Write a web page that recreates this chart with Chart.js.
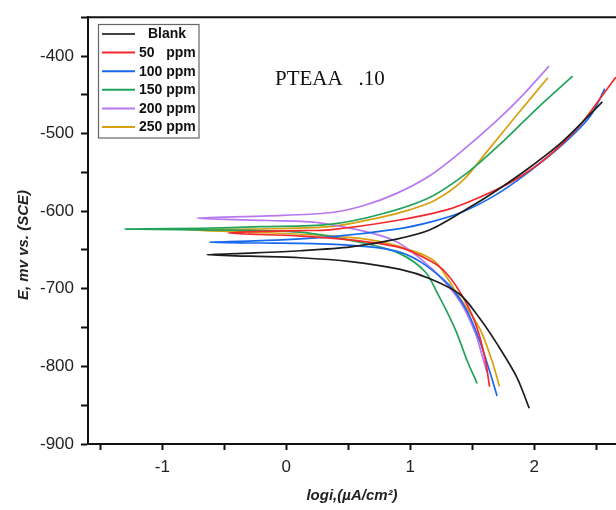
<!DOCTYPE html>
<html>
<head>
<meta charset="utf-8">
<script src="https://cdn.jsdelivr.net/npm/chart.js@4.4.1/dist/chart.umd.min.js"></script>
<style>
    html, body { margin: 0; padding: 0; background: #fff; overflow: hidden; }
    #wrap { width: 616px; height: 510px; }
</style>
</head>
<body>
<div id="wrap"><canvas id="tafel" width="616" height="510"></canvas></div>
<script>
// ============================================
// DATA (log i vs E, cathodic end -> Ecorr -> anodic end)
// ============================================

const seriesNames = ['Blank', '50   ppm', '100 ppm', '150 ppm', '200 ppm', '250 ppm'];
const seriesColors = ['#1e1e1e', '#f5282d', '#1769f0', '#21a45a', '#b878f0', '#d9a00f'];

const blankLogI = [1.96, 1.86, 1.70, 1.56, 1.40, 1.16, 0.92, 0.52, 0.11, -0.29, -0.64, -0.29, 0.11, 0.52, 0.89, 1.16, 1.48, 1.70, 1.96, 2.23, 2.55];
const blankE    = [-854, -814, -771, -738, -707, -687, -675, -665, -660, -658, -656, -654, -651, -646, -636, -624, -595, -573, -544, -510, -459];

const ppm50LogI = [1.64, 1.60, 1.52, 1.40, 1.28, 1.16, 0.92, 0.52, 0.11, -0.21, -0.47, -0.21, 0.11, 0.35, 0.89, 1.30, 1.56, 1.83, 2.10, 2.37, 2.55, 2.66];
const ppm50E    = [-826, -787, -742, -704, -678, -664, -647, -637, -632, -630, -628, -626, -625, -624, -612, -598, -582, -561, -531, -489, -451, -427];

const ppm100LogI = [1.70, 1.64, 1.56, 1.46, 1.36, 1.26, 1.08, 0.92, 0.68, 0.27, -0.21, -0.62, -0.21, 0.35, 0.89, 1.16, 1.42, 1.70, 1.96, 2.23, 2.45, 2.57];
const ppm100E    = [-838, -806, -767, -729, -704, -687, -665, -653, -646, -642, -641, -640, -638, -633, -623, -614, -601, -578, -549, -514, -478, -442];

const ppm150LogI = [1.54, 1.46, 1.36, 1.22, 1.12, 0.92, 0.65, 0.11, -0.69, -1.30, -0.69, -0.21, 0.35, 0.76, 1.16, 1.48, 1.75, 2.02, 2.31];
const ppm150E    = [-822, -793, -751, -706, -678, -655, -642, -627, -624, -623, -622, -620, -617, -604, -582, -548, -510, -468, -426];

const ppm200LogI = [1.62, 1.58, 1.52, 1.40, 1.18, 0.86, 0.27, -0.15, -0.72, -0.15, 0.35, 0.62, 0.89, 1.16, 1.42, 1.70, 1.91, 2.12];
const ppm200E    = [-808, -786, -755, -716, -675, -637, -615, -612, -609, -606, -602, -593, -577, -554, -522, -483, -450, -413];

const ppm250LogI = [1.72, 1.66, 1.56, 1.38, 1.20, 1.00, 0.68, 0.27, -0.29, -0.81, -0.29, 0.35, 0.76, 1.00, 1.20, 1.42, 1.64, 1.86, 2.11];
const ppm250E    = [-826, -793, -751, -707, -665, -650, -637, -631, -627, -624, -623, -620, -608, -598, -586, -561, -519, -476, -428];

const xTicks = [-1.5, -1, -0.5, 0, 0.5, 1, 1.5, 2, 2.5];
const yTicks = [-900, -850, -800, -750, -700, -650, -600, -550, -500, -450, -400, -350];

const allLogI = [blankLogI, ppm50LogI, ppm100LogI, ppm150LogI, ppm200LogI, ppm250LogI];
const allE = [blankE, ppm50E, ppm100E, ppm150E, ppm200E, ppm250E];

// ============================================
// PLUGINS
// ============================================

const frameAndText = {
    id: 'frameAndText',
    afterDraw(chart) {
        const { ctx, chartArea } = chart;
        ctx.save();

        // top frame line
        ctx.strokeStyle = '#111';
        ctx.lineWidth = 2;
        ctx.beginPath();
        ctx.moveTo(chartArea.left - 1, chartArea.top);
        ctx.lineTo(chartArea.right, chartArea.top);
        ctx.stroke();

        // legend box
        ctx.strokeStyle = '#666';
        ctx.lineWidth = 1.2;
        ctx.strokeRect(98.5, 24.5, 100.5, 113.5);
        ctx.font = 'bold 14px "Liberation Sans", Arial, sans-serif';
        ctx.textBaseline = 'middle';
        chart.data.datasets.forEach((ds, i) => {
            const y = 34 + i * 18.6;
            ctx.strokeStyle = i === 0 ? '#444' : ds.borderColor;
            ctx.lineWidth = 2;
            ctx.beginPath();
            ctx.moveTo(102, y);
            ctx.lineTo(135, y);
            ctx.stroke();
            ctx.fillStyle = '#111';
            ctx.fillText(ds.label, i === 0 ? 148 : 139, y + 0.5);
        });

        // annotation
        ctx.font = '21px "Liberation Serif", "Times New Roman", serif';
        ctx.textBaseline = 'alphabetic';
        ctx.fillStyle = '#111';
        ctx.fillText('PTEAA   .10', 275, 85);

        // y title
        ctx.translate(24, 245);
        ctx.rotate(-Math.PI / 2);
        ctx.font = 'bold italic 15px "Liberation Sans", Arial, sans-serif';
        ctx.textAlign = 'center';
        ctx.textBaseline = 'middle';
        ctx.fillStyle = '#222';
        ctx.fillText('E, mv vs. (SCE)', 0, 0);

        ctx.restore();
    }
};

// ============================================
// CHART
// ============================================

const datasets = seriesNames.map((name, i) => ({
    label: name,
    data: allLogI[i].map((x, k) => ({ x: x, y: allE[i][k] })),
    borderColor: seriesColors[i],
    backgroundColor: seriesColors[i],
    borderWidth: 1.7,
    pointRadius: 0,
    showLine: true,
    tension: 0.3,
    fill: false
}));

new Chart(document.getElementById('tafel'), {
    type: 'scatter',
    data: { datasets: datasets },
    options: {
        responsive: false,
        animation: false,
        layout: { padding: { top: 14, right: 0, left: 0, bottom: 0 } },
        plugins: {
            legend: { display: false },
            tooltip: { enabled: false }
        },
        scales: {
            x: {
                type: 'linear',
                min: -1.6,
                max: 2.66,
                afterBuildTicks: axis => { axis.ticks = xTicks.map(v => ({ value: v })); },
                afterFit: scale => { scale.height = 66; },
                ticks: {
                    autoSkip: false,
                    maxRotation: 0,
                    padding: 7,
                    color: '#222',
                    font: { family: '"Liberation Sans", Arial, sans-serif', size: 17 },
                    callback: v => Number.isInteger(v) ? String(v) : ''
                },
                grid: {
                    drawOnChartArea: false,
                    drawTicks: true,
                    tickLength: 6,
                    tickWidth: 2,
                    tickColor: '#111'
                },
                border: { color: '#111', width: 2 },
                title: {
                    display: true,
                    text: 'logi,(µA/cm²)',
                    color: '#222',
                    font: { family: '"Liberation Sans", Arial, sans-serif', size: 15, weight: 'bold', style: 'italic' },
                    padding: { top: 0, bottom: 5 }
                }
            },
            y: {
                type: 'linear',
                min: -900,
                max: -350,
                afterBuildTicks: axis => { axis.ticks = yTicks.map(v => ({ value: v })); },
                afterFit: scale => { scale.width = 88; },
                ticks: {
                    autoSkip: false,
                    padding: 7,
                    color: '#222',
                    font: { family: '"Liberation Sans", Arial, sans-serif', size: 17 },
                    callback: v => (v % 100 === 0 && v !== -350) ? String(v) : ''
                },
                grid: {
                    drawOnChartArea: false,
                    drawTicks: true,
                    tickLength: 7,
                    tickWidth: 2,
                    tickColor: '#111'
                },
                border: { color: '#111', width: 2 }
            }
        }
    },
    plugins: [frameAndText]
});
</script>
</body>
</html>
